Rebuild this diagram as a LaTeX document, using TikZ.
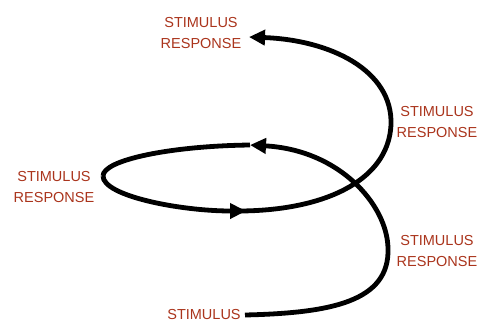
\documentclass[tikz,border=0pt]{standalone}
\usepackage{fontspec}
\setmainfont{Liberation Sans}
\usetikzlibrary{arrows.meta}
\definecolor{labred}{RGB}{170,52,28}
\begin{document}
\begin{tikzpicture}[x=1pt,y=-1pt,
  lab/.style={text=labred,font=\fontsize{14.5}{21}\selectfont,align=center,inner sep=0pt},
  spiral/.style={line width=4.8pt,black,line cap=butt},
  tip/.style={-{Triangle[length=16pt,width=15pt]}}]
\useasboundingbox (0,0) rectangle (479,325);
\node[lab] (l1) at (201,33) {STIMULUS\\RESPONSE};
\node[lab] (l2) at (437,122) {STIMULUS\\RESPONSE};
\node[lab] (l3) at (54,187) {STIMULUS\\RESPONSE};
\node[lab] (l4) at (437,251) {STIMULUS\\RESPONSE};
\node[lab] (l5) at (204,315) {STIMULUS};
\coordinate (s0) at (245,315);
\coordinate (r1) at (388,248);
\coordinate (a1) at (250,145);
\coordinate (lft) at (103,176);
\coordinate (a2) at (246,211);
\coordinate (r2) at (391,125);
\coordinate (a3) at (249,37);
% lower arc
\draw[spiral,tip] (s0) .. controls (330,313) and (390,302) .. (r1)
   .. controls (387,205) and (340,150) .. (a1);
% ellipse loop
\draw[spiral] (a1) .. controls (170,146) and (103,160) .. (lft);
\draw[spiral,tip] (lft) .. controls (103,196) and (180,211) .. (a2);
% upper arc
\draw[spiral,tip] ([xshift=-8pt]a2) .. controls (320,211) and (388,183) .. (r2)
   .. controls (393,70) and (330,40) .. (a3);
\end{tikzpicture}
\end{document}
